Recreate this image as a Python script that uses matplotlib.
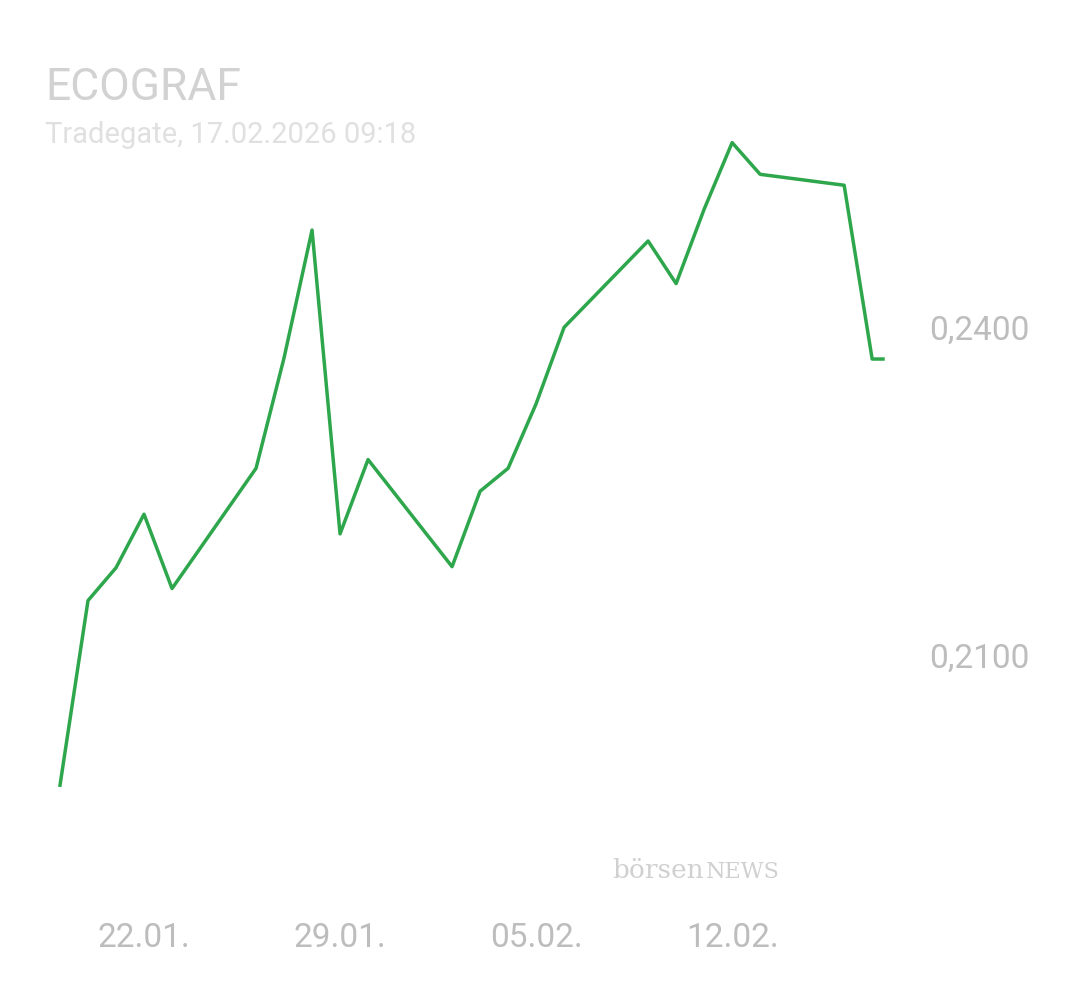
import matplotlib.pyplot as plt
import pandas as pd

# Kursdaten (Tradegate)
dates = pd.to_datetime([
    "2026-01-19 00:00", "2026-01-20 00:00", "2026-01-21 00:00", "2026-01-22 00:00", "2026-01-23 00:00",
    "2026-01-26 00:00", "2026-01-27 00:00", "2026-01-28 00:00", "2026-01-29 00:00", "2026-01-30 00:00",
    "2026-02-02 00:00", "2026-02-03 00:00", "2026-02-04 00:00", "2026-02-05 00:00", "2026-02-06 00:00",
    "2026-02-09 00:00", "2026-02-10 00:00", "2026-02-11 00:00", "2026-02-12 00:00", "2026-02-13 00:00",
    "2026-02-16 00:00", "2026-02-17 00:00", "2026-02-17 09:18",
])
prices = [0.1981, 0.2150, 0.2180, 0.2229, 0.2161,
          0.2271, 0.2372, 0.2489, 0.2211, 0.2279,
          0.2181, 0.2250, 0.2271, 0.2330, 0.2400,
          0.2479, 0.2440, 0.2508, 0.2569, 0.2540,
          0.2530, 0.2371, 0.2371]
tick_dates = pd.to_datetime(["2026-01-22", "2026-01-29", "2026-02-05", "2026-02-12"])
tick_labels = ["22.01.", "29.01.", "05.02.", "12.02."]
y_ticks = [0.21, 0.24]
y_labels = ["0,2100", "0,2400"]

plt.rcParams['font.family'] = ['Roboto', 'DejaVu Sans']
fig = plt.figure(figsize=(10.8, 9.9), dpi=100)
ax = fig.add_axes([60/1080, 90/990, 823/1080, 800/990])
ax.plot(dates, prices, color="#2ea64c", lw=2.5, clip_on=False)
ax.set_xlim(dates[0], dates[-1])
ax.set_ylim(0.1876, 0.2608)

for s in ax.spines.values():
    s.set_visible(False)
ax.yaxis.tick_right()
ax.set_yticks(y_ticks)
ax.set_yticklabels(y_labels)
ax.set_xticks(tick_dates)
ax.set_xticklabels(tick_labels)
ax.tick_params(length=0, labelsize=24, colors="#bdbdbd")
ax.tick_params(axis="y", pad=33)
ax.tick_params(axis="x", pad=16)

fig.text(45/1080, 1 - 88/990, "ECOGRAF", fontsize=32, color="#d2d2d2", va="center")
fig.text(45/1080, 1 - 135/990, "Tradegate, 17.02.2026 09:18", fontsize=21,
         color="#e0e0e0", va="center")
fig.text(612/1080, 1 - 870/990, "börsen", fontsize=19, color="#d0d0d0",
         family="DejaVu Serif", va="center")
fig.text(706/1080, 1 - 872/990, "NEWS", fontsize=16, color="#d0d0d0",
         family="DejaVu Serif", va="center")

fig.savefig("out.png")
